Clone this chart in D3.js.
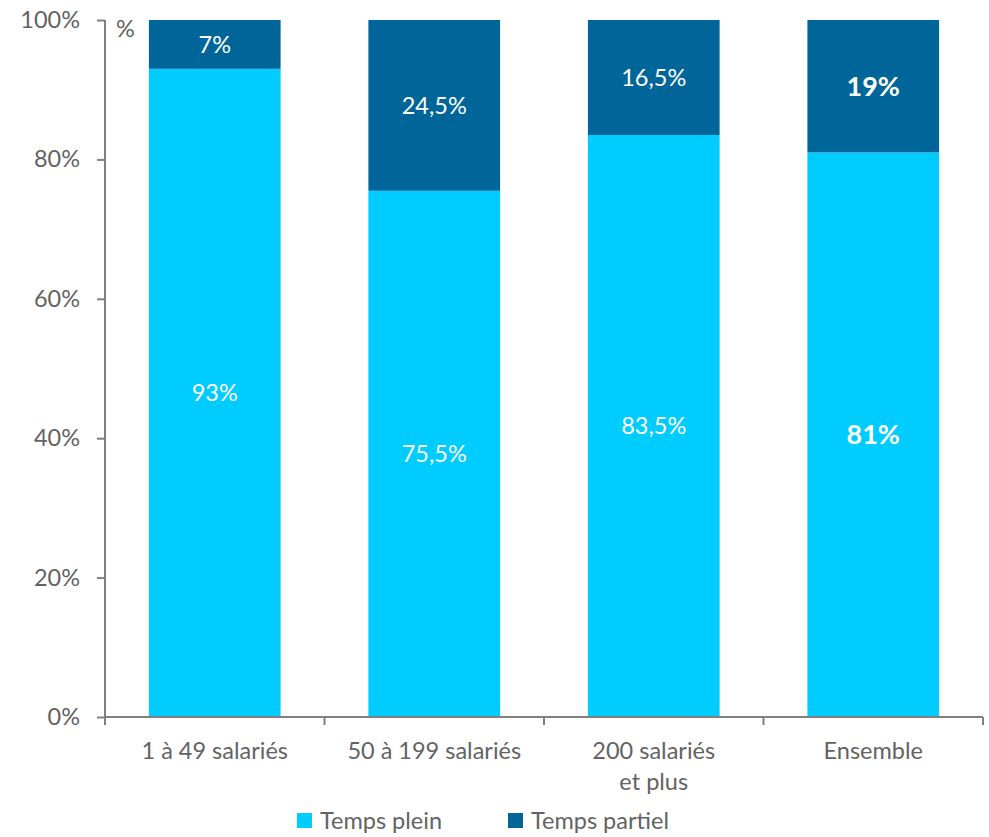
<!DOCTYPE html>
<html><head><meta charset="utf-8">
<script src="https://cdn.jsdelivr.net/npm/d3@7"></script>
<style>body{margin:0;background:#fff}svg{display:block}</style>
</head><body>
<svg id="c" width="989" height="837"></svg>
<script>
const categories = [["1 à 49 salariés"], ["50 à 199 salariés"], ["200 salariés", "et plus"], ["Ensemble"]];
const tempsPlein = [93, 75.5, 83.5, 81];
const tempsPartiel = [7, 24.5, 16.5, 19];
const pleinLabels = ["93%", "75,5%", "83,5%", "81%"];
const partielLabels = ["7%", "24,5%", "16,5%", "19%"];
const boldFlags = [false, false, false, true];
const yTicks = [0, 20, 40, 60, 80, 100];
const seriesNames = ["Temps plein", "Temps partiel"];
const colors = ["#00CCFF", "#006699"];

const font = "Lato, 'Open Sans', sans-serif";
const fs = 23.5;
const grey = "#636363";
const svg = d3.select("#c");
const x = d3.scaleBand().domain(d3.range(categories.length)).range([105, 983]).paddingInner(0.4).paddingOuter(0.2);
const y = d3.scaleLinear().domain([0, 100]).range([717, 20]);

// bars
const g = svg.append("g");
categories.forEach((c, i) => {
  g.append("rect").attr("x", x(i)).attr("width", x.bandwidth())
    .attr("y", y(tempsPlein[i])).attr("height", y(0) - y(tempsPlein[i])).attr("fill", colors[0]);
  g.append("rect").attr("x", x(i)).attr("width", x.bandwidth())
    .attr("y", y(100)).attr("height", y(100 - tempsPartiel[i]) - y(100)).attr("fill", colors[1]);
  const cx = x(i) + x.bandwidth() / 2;
  const lab = (yy, t) => g.append("text").attr("x", cx).attr("y", yy).attr("dy", "0.35em")
    .attr("text-anchor", "middle").attr("fill", "#fff").attr("font-family", font)
    .attr("font-size", boldFlags[i] ? 27 : fs).attr("font-weight", boldFlags[i] ? "bold" : "normal").text(t);
  lab((y(0) + y(tempsPlein[i])) / 2, pleinLabels[i]);
  lab((y(100) + y(100 - tempsPartiel[i])) / 2, partielLabels[i]);
});

// y axis
const ya = svg.append("g").attr("transform", "translate(105,0)")
  .call(d3.axisLeft(y).tickValues(yTicks).tickSize(8).tickPadding(17).tickFormat(d => d + "%"));
ya.selectAll("text").attr("font-family", font).attr("font-size", fs).attr("fill", grey);
ya.selectAll("line").attr("stroke", "#808080").attr("stroke-width", 2);
ya.select(".domain").attr("stroke", "#808080").attr("stroke-width", 2).attr("d", "M0,717V20");

// x axis
const tickPos = d3.range(categories.length + 1).map(i => 105 + i * x.step());
const xa = svg.append("g");
xa.append("line").attr("x1", 105).attr("x2", 983).attr("y1", 717).attr("y2", 717).attr("stroke", "#808080").attr("stroke-width", 2);
tickPos.forEach(p => xa.append("line").attr("x1", p).attr("x2", p).attr("y1", 717).attr("y2", 725).attr("stroke", "#808080").attr("stroke-width", 2));
categories.forEach((lines, i) => {
  const t = xa.append("text").attr("text-anchor", "middle").attr("font-family", font).attr("font-size", fs).attr("fill", grey);
  lines.forEach((l, k) => t.append("tspan").attr("x", x(i) + x.bandwidth() / 2).attr("y", 759 + k * 31).text(l));
});

// unit
svg.append("text").attr("x", 116).attr("y", 37).attr("font-family", font).attr("font-size", fs).attr("fill", grey).text("%");

// legend
const legX = [297, 508];
seriesNames.forEach((n, i) => {
  svg.append("rect").attr("x", legX[i]).attr("y", 813).attr("width", 15).attr("height", 15).attr("fill", colors[i]);
  svg.append("text").attr("x", legX[i] + 23).attr("y", 829).attr("font-family", font).attr("font-size", fs).attr("fill", grey).text(n);
});
</script>
</body></html>
